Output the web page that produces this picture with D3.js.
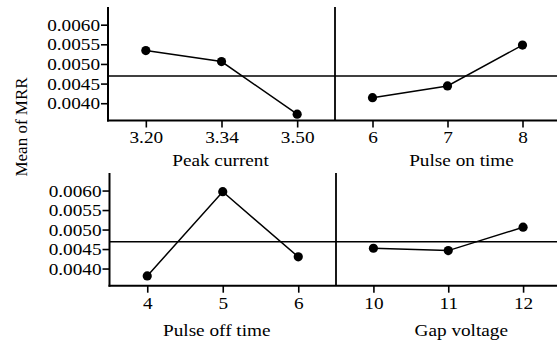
<!DOCTYPE html>
<html>
<head>
<meta charset="utf-8">
<script src="https://cdn.jsdelivr.net/npm/d3@7"></script>
</head>
<body style="margin:0">
<svg id="chart" width="557" height="341"></svg>
<script>
// ---- data ----
const peakLevels = ["3.20", "3.34", "3.50"];
const peakMeans  = [0.00534, 0.00506, 0.00372];
const onLevels   = ["6", "7", "8"];
const onMeans    = [0.00414, 0.00444, 0.00548];
const offLevels  = ["4", "5", "6"];
const offMeans   = [0.00381, 0.00597, 0.00430];
const gapLevels  = ["10", "11", "12"];
const gapMeans   = [0.00452, 0.00446, 0.00506];
const grandMean  = 0.00469;
const yTicks     = [0.0040, 0.0045, 0.0050, 0.0055, 0.0060];
const factorNames = ["Peak current", "Pulse on time", "Pulse off time", "Gap voltage"];
const yTitle = "Mean of MRR";

// ---- layout ----
const FONT = "Liberation Serif";
const svg = d3.select("#chart");
const W = 557;
const SX = 1.1; // horizontal text stretch
const rows = [
  { top: 7,   bottom: 120.5, left: 108,   div: 335, titleY: 165.7 },
  { top: 173, bottom: 285.7, left: 109.5, div: 336, titleY: 335.5 }
];
const panels = [
  { name: factorNames[0], levels: peakLevels, means: peakMeans, row: 0, col: 0, titleDx: -1 },
  { name: factorNames[1], levels: onLevels,   means: onMeans,   row: 0, col: 1, titleDx: 14 },
  { name: factorNames[2], levels: offLevels,  means: offMeans,  row: 1, col: 0, titleDx: -6 },
  { name: factorNames[3], levels: gapLevels,  means: gapMeans,  row: 1, col: 1, titleDx: 13 }
];
const yDomain = [0.00356, 0.00645];

rows.forEach((r, ri) => {
  const y = d3.scaleLinear().domain(yDomain).range([r.bottom, r.top]);
  r.y = y;
  const g = svg.append("g");
  const ya = g.append("g").attr("transform", `translate(${r.left},0)`)
    .call(d3.axisLeft(y).tickValues(yTicks).tickFormat(d3.format(".4f")).tickSize(7).tickPadding(1));
  ya.select(".domain").remove();
  ya.selectAll(".tick line").attr("stroke", "#000").attr("stroke-width", 1.6);
  ya.selectAll(".tick text")
    .attr("font-size", 17.5).attr("fill", "#000")
    .attr("x", -8 / SX).attr("transform", `scale(${SX},1)`)
    .style("font-family", FONT);
  g.append("line").attr("x1", r.left).attr("x2", r.left).attr("y1", r.top).attr("y2", r.bottom + 1)
    .attr("stroke", "#000").attr("stroke-width", 2);
  g.append("line").attr("x1", r.left - 1).attr("x2", W).attr("y1", r.bottom).attr("y2", r.bottom)
    .attr("stroke", "#000").attr("stroke-width", 2);
  g.append("line").attr("x1", r.div).attr("x2", r.div).attr("y1", r.top).attr("y2", r.bottom)
    .attr("stroke", "#000").attr("stroke-width", 1.8);
  g.append("line").attr("x1", r.left).attr("x2", W).attr("y1", y(grandMean)).attr("y2", y(grandMean))
    .attr("stroke", "#000").attr("stroke-width", 1.5);
});

panels.forEach(p => {
  const r = rows[p.row];
  const x0 = p.col === 0 ? r.left : r.div;
  const x1 = p.col === 0 ? r.div : r.div + (r.div - r.left) - 2;
  const x = d3.scalePoint().domain(p.levels).range([x0, x1]).padding(0.5);
  const y = r.y;
  const g = svg.append("g");
  const xa = g.append("g").attr("transform", `translate(0,${r.bottom})`)
    .call(d3.axisBottom(x).tickSize(7).tickPadding(3.5));
  xa.select(".domain").remove();
  xa.selectAll(".tick line").attr("stroke", "#000").attr("stroke-width", 1.6);
  xa.selectAll(".tick text")
    .attr("font-size", 17.5).attr("fill", "#000")
    .attr("transform", `scale(${SX},1)`)
    .style("font-family", FONT);

  const pts = p.levels.map((l, i) => ({ l, v: p.means[i] }));
  g.append("path").datum(pts)
    .attr("d", d3.line().x(d => x(d.l)).y(d => y(d.v)))
    .attr("fill", "none").attr("stroke", "#000").attr("stroke-width", 1.5);
  g.selectAll("circle").data(pts).join("circle")
    .attr("cx", d => x(d.l)).attr("cy", d => y(d.v)).attr("r", 4.6).attr("fill", "#000");

  const cx = (x0 + x1) / 2 + p.titleDx;
  g.append("text")
    .attr("transform", `translate(${cx},${r.titleY}) scale(${SX},1)`)
    .attr("text-anchor", "middle").attr("font-size", 17.5).attr("fill", "#000")
    .style("font-family", FONT)
    .text(p.name);
});

svg.append("text")
  .attr("transform", "translate(26.5,127) rotate(-90)")
  .attr("text-anchor", "middle").attr("font-size", 17).attr("fill", "#000")
  .style("font-family", FONT)
  .text(yTitle);
</script>
</body>
</html>
